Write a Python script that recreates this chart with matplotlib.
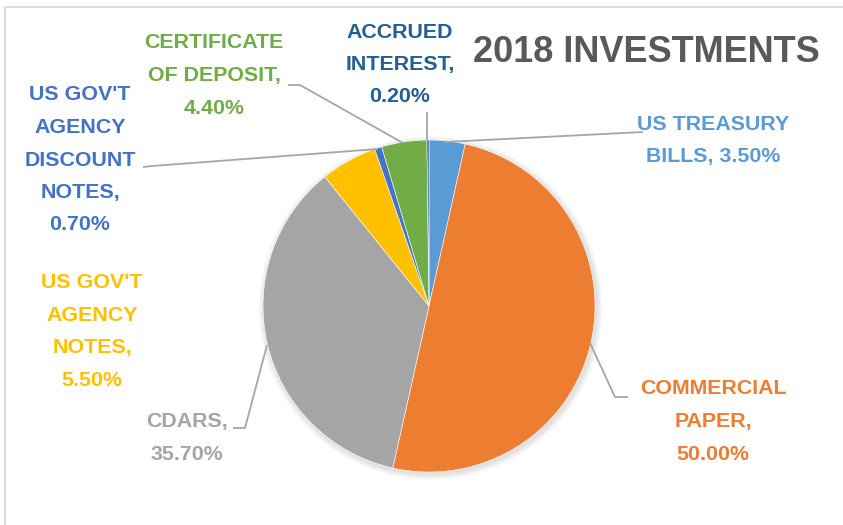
import textwrap
import numpy as np
import matplotlib
matplotlib.use('Agg')
import matplotlib.pyplot as plt
from matplotlib.patches import Circle

# slices, clockwise from 12 o'clock
names = ["US TREASURY BILLS", "COMMERCIAL PAPER", "CDARS", "US GOV'T AGENCY NOTES",
         "US GOV'T AGENCY DISCOUNT NOTES", "CERTIFICATE OF DEPOSIT", "ACCRUED INTEREST"]
values = [3.5, 50.0, 35.7, 5.5, 0.7, 4.4, 0.2]
colors = ['#5B9BD5', '#ED7D31', '#A5A5A5', '#FFC000', '#4472C4', '#70AD47', '#255E91']
title = "2018 INVESTMENTS"

# label layout (pixel coords, y down): wrap width, centre x, first line y
wrap_w = [12, 10, 6, 8, 8, 11, 9]
lab_x = [713, 713, 187, 92, 80, 214, 400]
lab_y = [124, 389, 422, 283, 95, 43, 32]
leaders = [
    [(643, 132), (445, 142)],
    [(590, 343), (615, 397), (628, 397)],
    [(267, 345), (245, 428), (233, 428)],
    None,
    [(143, 167), (152, 166), (378, 149)],
    [(288, 85), (300, 85), (403, 143)],
    [(427, 112), (427, 140)],
]

W, H = 843, 525
fig = plt.figure(figsize=(W / 100, H / 100), dpi=100)
ax = fig.add_axes([0, 0, 1, 1])

cx, cy, r = 429, 306, 166

# soft shadow
for k in range(6, 0, -1):
    ax.add_patch(Circle((cx + 1.5, cy + 2), r + k, color='#000000', alpha=0.018, lw=0))

# y axis inverted -> counterclock in data = clockwise on screen
ax.pie(values, colors=colors, startangle=-90, counterclock=True,
       center=(cx, cy), radius=r, frame=True,
       wedgeprops={'linewidth': 0.4, 'edgecolor': 'white'})

for i, v in enumerate(values):
    lines = textwrap.wrap(f"{names[i]}, {v:.2f}%", wrap_w[i])
    for j, ln in enumerate(lines):
        ax.text(lab_x[i], lab_y[i] + j * 32.5, ln, ha='center', va='center',
                fontsize=15.4, fontweight='bold', color=colors[i],
                family=['Liberation Sans', 'DejaVu Sans'])
    if leaders[i]:
        xs, ys = zip(*leaders[i])
        ax.plot(xs, ys, color='#A6A6A6', lw=1.3, solid_capstyle='butt')

ax.text(646, 52, title, ha='center', va='center', fontsize=26, fontweight='bold',
        color='#595959', family=['Liberation Sans', 'DejaVu Sans'])

# chart frame
ax.plot([5, 5, W], [H, 7, 7], color='#D9D9D9', lw=1.2)

ax.set_xlim(0, W)
ax.set_ylim(H, 0)
ax.set_aspect('auto')
ax.axis('off')

fig.savefig('out.png', dpi=100, facecolor='white')
